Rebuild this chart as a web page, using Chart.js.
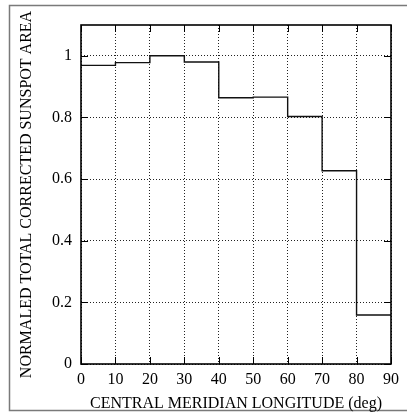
<!DOCTYPE html>
<html>
<head>
<meta charset="utf-8">
<script src="https://cdn.jsdelivr.net/npm/chart.js@4.4.0/dist/chart.umd.min.js"></script>
<style>
html,body{margin:0;padding:0;background:#fff;}
#wrap{width:407px;height:413px;position:relative;}
</style>
</head>
<body>
<div id="wrap"><canvas id="c" width="407" height="413"></canvas></div>
<script>
// Bin left edges (deg) and normalized area per bin
const binEdges = [0, 10, 20, 30, 40, 50, 60, 70, 80, 90];
const areaValues = [0.969, 0.978, 1.0, 0.98, 0.864, 0.866, 0.803, 0.627, 0.159];
const xTicks = [0, 10, 20, 30, 40, 50, 60, 70, 80, 90];
const yTicks = [0, 0.2, 0.4, 0.6, 0.8, 1];
const xTitle = 'CENTRAL MERIDIAN LONGITUDE (deg)';
const yTitle = 'NORMALED TOTAL CORRECTED SUNSPOT AREA';

const pts = binEdges.map((e, i) => ({x: e, y: areaValues[Math.min(i, areaValues.length - 1)]}));

const FONT = "'Liberation Serif', 'Times New Roman', serif";

const framePlugin = {
  id: 'frame',
  beforeDraw(chart) {
    const ctx = chart.ctx;
    ctx.save();
    ctx.strokeStyle = '#7a7a7a';
    ctx.lineWidth = 1.5;
    ctx.strokeRect(9.5, 5.5, 420, 405);
    ctx.restore();
  },
  afterDatasetsDraw(chart) {
    const ctx = chart.ctx;
    const a = chart.chartArea;
    const xs = chart.scales.x, ys = chart.scales.y;
    ctx.save();
    ctx.strokeStyle = '#000';
    ctx.lineWidth = 1;
    const L = 7;
    ctx.beginPath();
    xTicks.forEach(v => {
      const p = Math.round(xs.getPixelForValue(v)) + 0.5;
      ctx.moveTo(p, a.bottom); ctx.lineTo(p, a.bottom - L);
      ctx.moveTo(p, a.top); ctx.lineTo(p, a.top + L);
    });
    yTicks.forEach(v => {
      const p = Math.round(ys.getPixelForValue(v)) + 0.5;
      ctx.moveTo(a.left, p); ctx.lineTo(a.left + L, p);
      ctx.moveTo(a.right, p); ctx.lineTo(a.right - L, p);
    });
    ctx.stroke();
    ctx.lineWidth = 1.6;
    ctx.strokeRect(a.left, a.top, a.right - a.left, a.bottom - a.top);
    ctx.restore();
  }
};

new Chart(document.getElementById('c'), {
  type: 'line',
  data: {
    datasets: [{
      data: pts,
      stepped: 'before',
      borderColor: '#111',
      borderWidth: 1.4,
      pointRadius: 0,
      fill: false
    }]
  },
  options: {
    responsive: false,
    animation: false,
    events: [],
    layout: {padding: {top: 25, right: 16, left: 0, bottom: 0}},
    plugins: {legend: {display: false}, tooltip: {enabled: false}},
    scales: {
      x: {
        type: 'linear', min: 0, max: 90,
        afterBuildTicks(s) { s.ticks = xTicks.map(v => ({value: v})); },
        afterFit(s) { s.height = 49; },
        grid: {color: '#222', lineWidth: 1, drawTicks: false},
        border: {display: false, dash: [1, 2]},
        ticks: {color: '#000', font: {family: FONT, size: 16}, padding: 6, maxRotation: 0},
        title: {display: true, text: xTitle, color: '#000', font: {family: FONT, size: 16}, padding: {top: 0, bottom: 0}}
      },
      y: {
        type: 'linear', min: 0, max: 1.1,
        afterBuildTicks(s) { s.ticks = yTicks.map(v => ({value: v})); },
        afterFit(s) { s.width = 81; },
        grid: {color: '#222', lineWidth: 1, drawTicks: false},
        border: {display: false, dash: [1, 2]},
        ticks: {color: '#000', font: {family: FONT, size: 16}, padding: 9, callback: v => String(v)},
        title: {display: true, text: yTitle, color: '#000', font: {family: FONT, size: 16}, padding: {top: 17, bottom: 0}}
      }
    }
  },
  plugins: [framePlugin]
});
</script>
</body>
</html>
